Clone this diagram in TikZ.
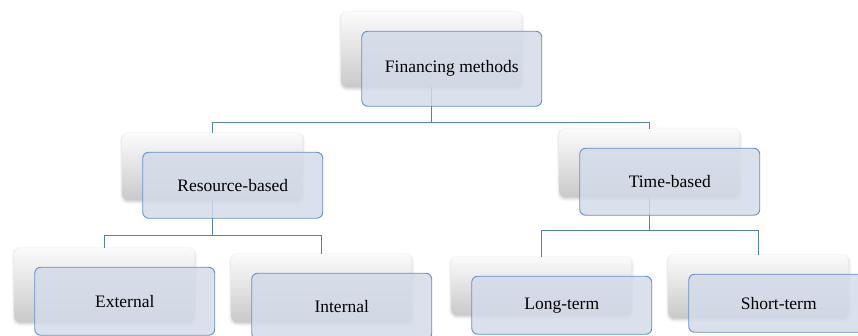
\documentclass[tikz,border=0pt]{standalone}
\usepackage{fontspec}
\setmainfont{Liberation Serif}
\usepackage{xcolor}
\usepackage{tikz}
\usetikzlibrary{positioning,shadows.blur}

\definecolor{boxfill}{HTML}{D3DBE9}
\definecolor{boxline}{HTML}{6590C8}
\definecolor{linkblue}{HTML}{5381BC}

\begin{document}
\begin{tikzpicture}[x=1pt,y=-1pt]
\tikzstyle{every node} = [font = \fontsize{17.5}{20}\selectfont]
\tikzstyle{back} = [rounded corners=6pt, minimum width=180pt, inner sep=0pt, top color=gray!3, bottom color=gray!42, blur shadow={shadow xshift=0pt, shadow yshift=-1.5pt, shadow blur radius=3pt, shadow opacity=25}]
\tikzstyle{front} = [draw=boxline, line width=0.9pt, fill=boxfill, fill opacity=0.85, text opacity=1, rounded corners=6pt, minimum width=180pt, inner sep=0pt, anchor=north west]
\tikzstyle{link} = [draw=linkblue, line width=1pt]
	\useasboundingbox (0,0) rectangle (858,336);
	\clip (0,0) rectangle (858,336);

	\node [back, minimum height=75pt] (finB) at (431.5,49.5) {};
	\node [back, minimum height=67pt] (resB) at (212.5,166.5) {};
	\node [back, minimum height=68pt] (timB) at (649.5,163) {};
	\node [back, minimum height=74pt] (extB) at (104.5,285) {};
	\node [back, minimum height=68pt] (intB) at (321.5,288) {};
	\node [back, minimum height=58pt] (lonB) at (541.5,286) {};
	\node [back, minimum height=63pt] (shoB) at (758.5,286.5) {};

	\coordinate (busTop) at (431.5,122.5);
	\coordinate (busRes) at (212.5,235.5);
	\coordinate (busTim) at (649.5,230.5);
	\draw [link] (finB.south) -- (busTop) -| (resB.north);
	\draw [link] (busTop) -| (timB.north);
	\draw [link] (resB.south) -- (busRes) -| (extB.north);
	\draw [link] (busRes) -| (intB.north);
	\draw [link] (timB.south) -- (busTim) -| (lonB.north);
	\draw [link] (busTim) -| (shoB.north);

	\node [front, minimum height=75pt, below right=19pt and 20pt of finB.north west] (fin) {Financing methods};
	\node [front, minimum height=66pt, below right=19pt and 20pt of resB.north west] (res) {Resource-based};
	\node [front, minimum height=67pt, below right=19pt and 20pt of timB.north west] (tim) {Time-based};
	\node [front, minimum height=68pt, below right=19pt and 20pt of extB.north west] (ext) {External};
	\node [front, minimum height=66pt, below right=19pt and 20pt of intB.north west] (int) {Internal};
	\node [front, minimum height=58pt, below right=19pt and 20pt of lonB.north west] (lon) {Long-term};
	\node [front, minimum height=58pt, below right=19pt and 20pt of shoB.north west] (sho) {Short-term};
\end{tikzpicture}
\end{document}
